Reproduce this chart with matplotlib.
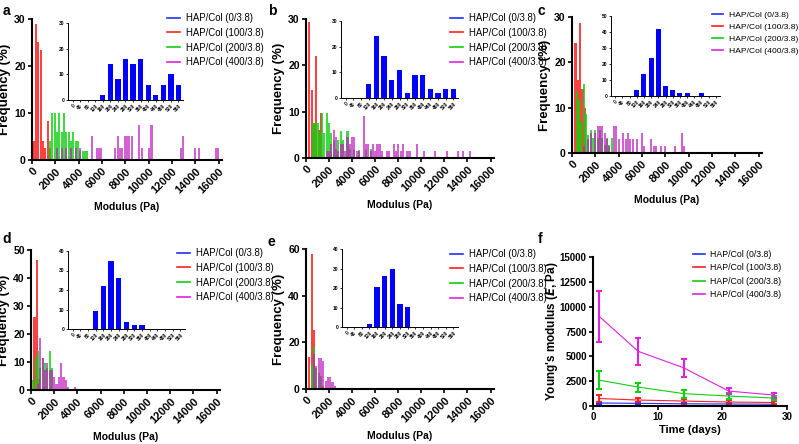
import numpy as np
import matplotlib.pyplot as plt
from matplotlib.lines import Line2D

plt.rcParams['font.family'] = ['Liberation Sans', 'DejaVu Sans']

# ---- data -------------------------------------------------------------
labels = ['HAP/Col (0/3.8)', 'HAP/Col (100/3.8)', 'HAP/Col (200/3.8)', 'HAP/Col (400/3.8)']
colors = ['#2030ff', '#ff2020', '#10d010', '#e020e0']

# inset categories (Pa)
inset_cats = ['0', '40', '80', '120', '160', '200', '240', '280', '320', '360',
              '400', '440', '480', '520', '560']
a_inset = [0, 0, 0, 0, 2, 14, 8, 16, 14, 16, 6, 2, 6, 10, 6]
b_inset = [0, 0, 0, 5.5, 24, 16.5, 7.2, 11, 1.8, 9, 9, 3.6, 1.8, 3.6, 3.6]
c_inset = [0, 0, 0, 4, 14, 24, 42, 6, 4, 2, 2, 0, 2, 0, 0]
d_inset = [0, 0, 0, 9, 22, 35, 26, 3.7, 1.8, 1.8, 0, 0, 0, 0, 0]
e_inset = [0, 0, 0, 1.7, 20.5, 26, 29.5, 12, 10.3, 0, 0, 0, 0, 0, 0]

# main histograms: bin centres (Pa) and frequency (%)
a_red_x = [150, 350, 550, 750, 950, 1150, 1350, 1550]
a_red_y = [4, 29, 25, 23.5, 4, 2.5, 8.3, 2.5]
a_grn_x = [1550, 1750, 1950, 2150, 2350, 2550, 2750, 2950, 3150, 3350, 3550, 3750,
           3950, 4150, 4350, 4550, 4750]
a_grn_y = [4, 10, 10, 6, 10, 6, 10, 6, 6, 4, 6, 4, 4, 2, 2, 2, 2]
a_mag_x = [2150, 2550, 2950, 3350, 3750, 4150, 5150, 5550, 5750, 5950, 7150, 7350,
           7550, 7750, 7950, 8150, 8350, 8550, 9150, 9450, 10050, 10250, 12750,
           12950, 13950, 14350, 15750, 15950]
a_mag_y = [2.5, 2.5, 2.5, 2.5, 2.5, 2.5, 5, 2.5, 2.5, 2.5, 2.5, 5, 2.5, 2.5, 5, 5,
           5, 5, 7.4, 2.5, 2.5, 7.4, 2.5, 5, 2.5, 2.5, 2.5, 2.5]

b_red_x = [300, 500, 700, 900, 1100, 1300]
b_red_y = [29.3, 14.6, 7.5, 22, 6, 9.7]
b_grn_x = [600, 800, 1000, 1200, 1400, 1600, 1800, 2000, 2200, 2400, 2600, 2800,
           3000, 3200, 3600, 3800, 4200, 4600, 5200, 5600]
b_grn_y = [7.5, 7.5, 7.5, 5.5, 9.7, 5.5, 9.7, 7.5, 5.5, 3.8, 2, 3.8, 5.8, 3.8,
           5.8, 2, 1.8, 1.8, 1.8, 2]
b_mag_x = [1800, 2000, 2200, 2400, 2600, 2800, 3000, 3200, 3400, 3600, 3800, 4000,
           4200, 4400, 4600, 5000, 5200, 5400, 5600, 5800, 6000, 6200, 6400, 6600,
           7000, 7200, 7600, 7800, 8000, 8200, 8400, 8800, 9000, 9600, 10200,
           11200, 12200, 13200, 13600, 14200]
b_mag_y = [1.5, 1.5, 3, 6, 4.5, 1.5, 3, 3, 1.5, 4.5, 3, 4.5, 4.5, 1.5, 1.5, 9,
           3, 3, 1.5, 3, 1.5, 3, 3, 1.5, 1.5, 1.5, 3, 1.5, 3, 1.5, 3, 1.5, 1.5, 3,
           1.5, 1.5, 1.5, 1.5, 1.5, 1.5]

c_red_x = [300, 500, 700, 900, 1100]
c_red_y = [24.3, 16.2, 28.6, 14.2, 10]
c_grn_x = [400, 600, 800, 1000, 1200, 1400, 1600, 1800, 2000, 2200, 2400, 2600,
           2800, 3000, 3200, 3400]
c_grn_y = [13.7, 12, 6.8, 15.3, 8.5, 4, 5, 3.4, 5, 3.4, 5, 3.4, 1.7, 3.4, 1.7, 3.4]
c_mag_x = [1000, 1400, 1600, 2000, 2200, 2400, 2600, 2800, 3000, 3200, 3600, 3800,
           4000, 4400, 4600, 4800, 5000, 5200, 5600, 6000, 6200, 6800, 7000, 7200,
           7600, 8000, 8800, 9400, 9600]
c_mag_y = [1.5, 3, 4.5, 4.5, 6, 6, 6, 4.5, 3, 1.5, 6, 6, 3, 4.5, 3, 4.5, 3, 3,
           3, 4.5, 1.5, 3, 1.5, 1.5, 1.5, 1.5, 1.5, 4.5, 1.5]

d_red_x = [300, 500, 700]
d_red_y = [26, 46.5, 4]
d_grn_x = [200, 400, 600, 800, 1000, 1200, 1400, 1600, 1800]
d_grn_y = [3.5, 11.6, 13.8, 7.7, 11.6, 9.6, 7.7, 13.8, 7.7]
d_mag_x = [600, 800, 1000, 1200, 1400, 1600, 1800, 2000, 2200, 2400, 2600, 2800,
           3000, 3200, 3800]
d_mag_y = [2.3, 18.4, 11.6, 7.2, 9.5, 7.2, 7.2, 4.7, 2.3, 4.7, 9.6, 4.7, 3.5, 1, 1]

e_red_x = [300, 500, 700]
e_red_y = [13.7, 58, 25.5]
e_grn_x = [500, 700, 900, 1100, 1300, 1500]
e_grn_y = [10.5, 18.5, 9, 7, 5.5, 1.5]
e_mag_x = [700, 900, 1100, 1300, 1500, 1700, 1900, 2100, 2300, 2500]
e_mag_y = [15, 10, 13.5, 13.5, 12, 3.5, 5, 5, 3, 1.5]

# panel f: Young's modulus over time
days = [1, 7, 14, 21, 28]
f_mean = [[300, 270, 220, 200, 180],
          [750, 600, 500, 400, 350],
          [2600, 1900, 1250, 1000, 800],
          [9000, 5500, 3850, 1500, 1100]]
f_err = [[100, 80, 70, 60, 60],
         [350, 200, 250, 200, 170],
         [900, 450, 400, 300, 230],
         [2600, 1350, 900, 300, 250]]

# ---- layout helpers ---------------------------------------------------
W, H = 799, 444
fig = plt.figure(figsize=(W / 100, H / 100), dpi=100)


def px_axes(l, t, r, b):
    return fig.add_axes([l / W, 1 - b / H, (r - l) / W, (b - t) / H])


def style(ax, lw=1.4, size=7):
    for s in ['top', 'right']:
        ax.spines[s].set_visible(False)
    for s in ['left', 'bottom']:
        ax.spines[s].set_linewidth(lw)
    ax.tick_params(width=lw * 0.8, length=3, labelsize=size, pad=1.5)
    for t in ax.get_xticklabels() + ax.get_yticklabels():
        t.set_fontweight('bold')


def main_hist(box, red, grn, mag, ymax, ystep):
    ax = px_axes(*box)
    ax.bar(red[0], red[1], width=180, color=colors[1], alpha=0.85)
    ax.bar(grn[0], grn[1], width=180, color=colors[2], alpha=0.8)
    ax.bar(mag[0], mag[1], width=180, color='#c020c0', alpha=0.7)
    ax.set_xlim(0, 16300)
    ax.set_ylim(0, ymax)
    ax.set_xticks(np.arange(0, 16001, 2000))
    ax.set_yticks(np.arange(0, ymax + 1, ystep))
    ax.set_xticklabels([str(v) for v in range(0, 16001, 2000)], rotation=45,
                       ha='right', rotation_mode='anchor')
    style(ax, 1.5, 7.5)
    ax.tick_params(axis='x', labelsize=8)
    ax.set_xlabel('Modulus (Pa)', fontsize=7.5, fontweight='bold', labelpad=5)
    ax.set_ylabel('Frequency (%)', fontsize=9.5, fontweight='bold', labelpad=2)
    return ax


def inset(box, vals, ymax):
    ax = px_axes(*box)
    ax.bar(np.arange(len(vals)), vals, width=0.7, color='#0000ff')
    ax.set_xlim(-0.6, len(vals) - 0.4)
    ax.set_ylim(0, ymax)
    ax.set_yticks(np.arange(0, ymax + 1, 10))
    ax.set_xticks(np.arange(len(vals)))
    ax.set_xticklabels(inset_cats, rotation=45, ha='right', rotation_mode='anchor')
    style(ax, 0.7, 3.5)
    ax.tick_params(length=1.5, pad=1)
    return ax


def legend(x, y, size=6.9):
    handles = [Line2D([], [], color=c, lw=1.2) for c in colors]
    fig.legend(handles, labels, loc='upper left', bbox_to_anchor=(x / W, 1 - y / H),
               frameon=False, fontsize=size, handlelength=1.35, handletextpad=0.6,
               labelspacing=0.5, borderaxespad=0, borderpad=0)


# ---- panels a-e -------------------------------------------------------
main_hist((32, 19, 222, 160), (a_red_x, a_red_y), (a_grn_x, a_grn_y),
          (a_mag_x, a_mag_y), 30, 10)
inset((68, 23, 183, 100), a_inset, 30)
legend(167, 13)

main_hist((306, 19, 494, 158), (b_red_x, b_red_y), (b_grn_x, b_grn_y),
          (b_mag_x, b_mag_y), 30, 10)
inset((341, 21, 458, 98), b_inset, 30)
legend(450, 13)

main_hist((572, 17, 762, 153), (c_red_x, c_red_y), (c_grn_x, c_grn_y),
          (c_mag_x, c_mag_y), 30, 10)
inset((611, 16, 720, 96), c_inset, 50)
legend(712, 11, 6.1)

main_hist((31, 250, 220, 390), (d_red_x, d_red_y), (d_grn_x, d_grn_y),
          (d_mag_x, d_mag_y), 50, 10)
inset((68, 251, 185, 329), d_inset, 40)
legend(177, 248)

main_hist((306, 249, 494, 389), (e_red_x, e_red_y), (e_grn_x, e_grn_y),
          (e_mag_x, e_mag_y), 60, 20)
inset((342, 249, 458, 327), e_inset, 40)
legend(450, 249)

# ---- panel f ----------------------------------------------------------
axf = px_axes(593, 257, 787, 406)
for m, e, c in zip(f_mean, f_err, colors):
    axf.errorbar(days, m, yerr=e, color=c, lw=0.8, elinewidth=1.5, capsize=2.5,
                 capthick=1.5)
axf.set_xlim(0, 30)
axf.set_ylim(0, 15000)
axf.set_xticks([0, 10, 20, 30])
axf.set_yticks(np.arange(0, 15001, 2500))
style(axf, 1.5, 7)
axf.set_xlabel('Time (days)', fontsize=8, fontweight='bold', labelpad=2)
axf.set_ylabel("Young's modulus ($\\mathbfit{E}$, Pa)", fontsize=8.5,
               fontweight='bold', labelpad=0)
legend(693, 250, 6.3)

# panel letters
for ch, x, y in [('a', 3, 4), ('b', 268, 4), ('c', 537, 4),
                 ('d', 2, 232), ('e', 268, 235), ('f', 538, 232)]:
    fig.text(x / W, 1 - y / H, ch, fontsize=10, fontweight='bold', va='top')

fig.savefig('out.png', dpi=100)
